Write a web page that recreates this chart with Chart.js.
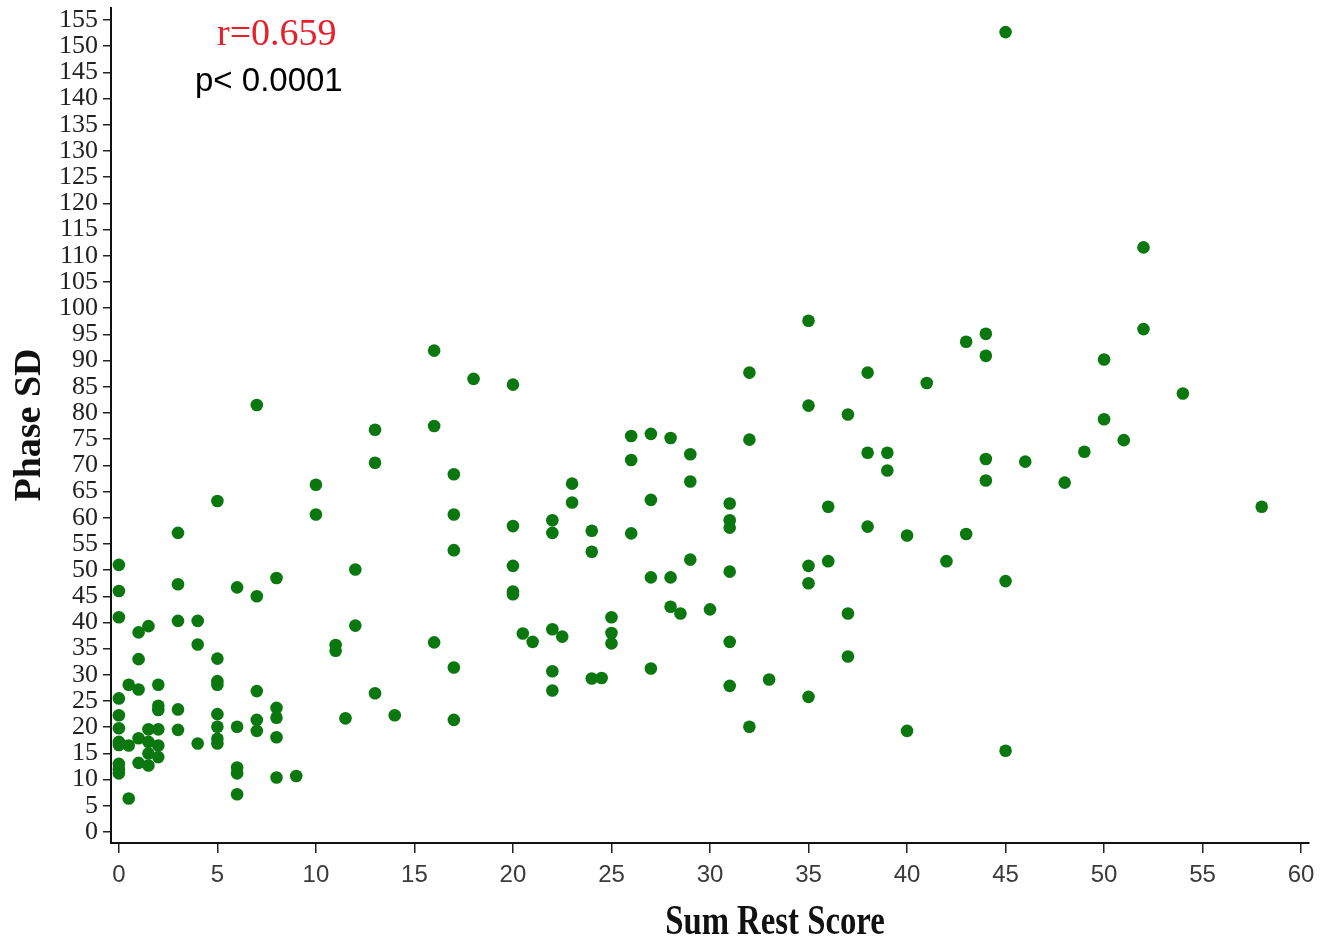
<!DOCTYPE html>
<html>
<head>
<meta charset="utf-8">
<script src="https://cdn.jsdelivr.net/npm/chart.js@4/dist/chart.umd.min.js"></script>
<style>
  html, body { margin: 0; padding: 0; background: #fff; }
  #wrap { width: 1336px; height: 946px; }
</style>
</head>
<body>
<div id="wrap"><canvas id="chart"></canvas></div>
<script>
// Sum Rest Score (x) and Phase SD (y), one entry per subject
const sumRestScore = [
  0, 0, 0, 0, 0, 0, 0, 0, 0, 0, 0,
  0.5, 0.5, 0.5,
  1, 1, 1, 1, 1,
  1.5, 1.5, 1.5, 1.5, 1.5,
  2, 2, 2, 2, 2, 2,
  3, 3, 3, 3, 3,
  4, 4, 4,
  5, 5, 5, 5, 5, 5, 5, 5,
  6, 6, 6, 6, 6,
  7, 7, 7, 7, 7,
  8, 8, 8, 8, 8,
  9, 10, 10, 11, 11, 11.5, 12, 12,
  13, 13, 13, 14, 16, 16, 16,
  17, 17, 17, 17, 17, 18,
  20, 20, 20, 20, 20, 20.5, 21,
  22, 22, 22, 22, 22, 22.5, 23, 23,
  24, 24, 24, 24.5, 25, 25, 25,
  26, 26, 26, 27, 27, 27, 27,
  28, 28, 28, 28.5, 29, 29, 29, 30,
  31, 31, 31, 31, 31, 31, 32, 32, 32, 33,
  35, 35, 35, 35, 35, 36, 36, 37, 37, 37,
  38, 38, 38, 39, 39, 40, 40, 41, 42, 43, 43,
  44, 44, 44, 44, 45, 45, 45, 46, 48, 49,
  50, 50, 51, 52, 52, 54, 58
]
const phaseSD = [
  51, 46, 41, 25.5, 22.3, 19.8, 17.2, 16.6, 13, 12, 11.2,
  28.1, 16.5, 6.4,
  38.1, 33, 27.2, 17.9, 13.2,
  39.3, 19.6, 17.2, 15, 12.7,
  28.1, 24.1, 23.3, 19.6, 16.5, 14.3,
  57.1, 47.3, 40.3, 23.4, 19.5,
  40.3, 35.8, 16.9,
  63.2, 33.1, 28.8, 28.1, 22.5, 20.1, 17.8, 16.9,
  46.7, 20.1, 12.3, 11.2, 7.2,
  81.5, 45, 26.9, 21.4, 19.3,
  48.5, 23.7, 21.8, 18.1, 10.4,
  10.7, 66.3, 60.6, 35.7, 34.6, 21.7, 50.1, 39.4,
  76.8, 70.5, 26.5, 22.3, 91.9, 77.5, 36.2,
  68.3, 60.6, 53.8, 31.4, 21.4, 86.5,
  85.4, 58.4, 50.8, 45.9, 45.4, 37.9, 36.3,
  59.5, 57.1, 38.7, 30.7, 27, 37.3, 66.5, 62.9,
  57.5, 53.5, 29.3, 29.4, 41, 38, 36,
  75.6, 71, 57, 76, 63.4, 48.6, 31.2,
  75.2, 48.6, 43, 41.7, 72.1, 66.9, 52, 42.5,
  62.7, 59.5, 58.1, 49.7, 36.3, 27.9, 87.7, 74.9, 20.1, 29.1,
  97.6, 81.4, 50.8, 47.5, 25.8, 62.1, 51.7, 79.7, 41.7, 33.5,
  87.7, 72.4, 58.3, 72.4, 69, 56.6, 19.3, 85.7, 51.7, 93.6, 56.9,
  95.1, 90.9, 71.2, 67.1, 152.7, 47.9, 15.5, 70.7, 66.7, 72.6,
  90.2, 78.8, 74.8, 111.6, 96, 83.7, 62.1
]

const xTitle = 'Sum Rest Score'
const yTitle = 'Phase SD'
const statR = 'r=0.659'
const statP = 'p< 0.0001'

const points = sumRestScore.map((x, i) => ({ x, y: phaseSD[i] }))

// titles and stats text drawn by hand (original titles are condensed / off-centre)
const labelsPlugin = {
  id: 'labels',
  afterDraw(chart) {
    const ctx = chart.ctx
    ctx.save()
    ctx.fillStyle = '#e8202a'
    ctx.font = '38px "Liberation Serif", "Times New Roman", serif'
    ctx.textBaseline = 'alphabetic'
    ctx.textAlign = 'left'
    ctx.fillText(statR, 217, 45)

    ctx.fillStyle = '#000'
    ctx.font = '33px "Liberation Sans", Arial, sans-serif'
    ctx.fillText(statP, 195, 91)

    ctx.fillStyle = '#111'
    ctx.font = 'bold 38px "Liberation Serif", "Times New Roman", serif'
    ctx.translate(40, 425)
    ctx.rotate(-Math.PI / 2)
    ctx.textAlign = 'center'
    ctx.fillText(yTitle, 0, 0)
    ctx.restore()

    ctx.save()
    ctx.fillStyle = '#111'
    ctx.font = 'bold 42px "Liberation Serif", "Times New Roman", serif'
    ctx.textAlign = 'center'
    ctx.translate(775, 934)
    ctx.scale(0.78, 1)
    ctx.fillText(xTitle, 0, 0)
    ctx.restore()
  }
}

new Chart(document.getElementById('chart'), {
  type: 'scatter',
  data: {
    datasets: [{
      data: points,
      backgroundColor: '#0a780f',
      borderWidth: 0,
      pointRadius: 6.3,
      pointHoverRadius: 6.3
    }]
  },
  options: {
    responsive: true,
    maintainAspectRatio: false,
    animation: false,
    layout: { padding: { top: 8, right: 27, left: 0, bottom: 0 } },
    plugins: { legend: { display: false }, tooltip: { enabled: false } },
    scales: {
      x: {
        type: 'linear',
        min: -0.4,
        max: 60.4,
        afterFit(scale) { scale.height = 103; scale.paddingLeft = 0; scale.paddingRight = 0 },
        border: { display: true, color: '#111', width: 2 },
        grid: { drawOnChartArea: false, drawTicks: true, tickLength: 10, tickColor: '#222', lineWidth: 1.5 },
        ticks: {
          stepSize: 5,
          includeBounds: false,
          padding: 8,
          color: '#3a3a3a',
          font: { family: '"Liberation Sans Narrow", "Arial Narrow", "Liberation Sans", sans-serif', size: 24 }
        }
      },
      y: {
        type: 'linear',
        min: -2.1,
        max: 157.3,
        afterFit(scale) { scale.width = 111; scale.paddingTop = 0; scale.paddingBottom = 0 },
        border: { display: true, color: '#111', width: 2 },
        grid: { drawOnChartArea: false, drawTicks: true, tickLength: 8, tickColor: '#222', lineWidth: 1.5 },
        ticks: {
          stepSize: 5,
          includeBounds: false,
          padding: 5,
          autoSkip: false,
          color: '#222',
          font: { family: '"Liberation Serif", "Times New Roman", serif', size: 26 }
        }
      }
    }
  },
  plugins: [labelsPlugin]
})
</script>
</body>
</html>
